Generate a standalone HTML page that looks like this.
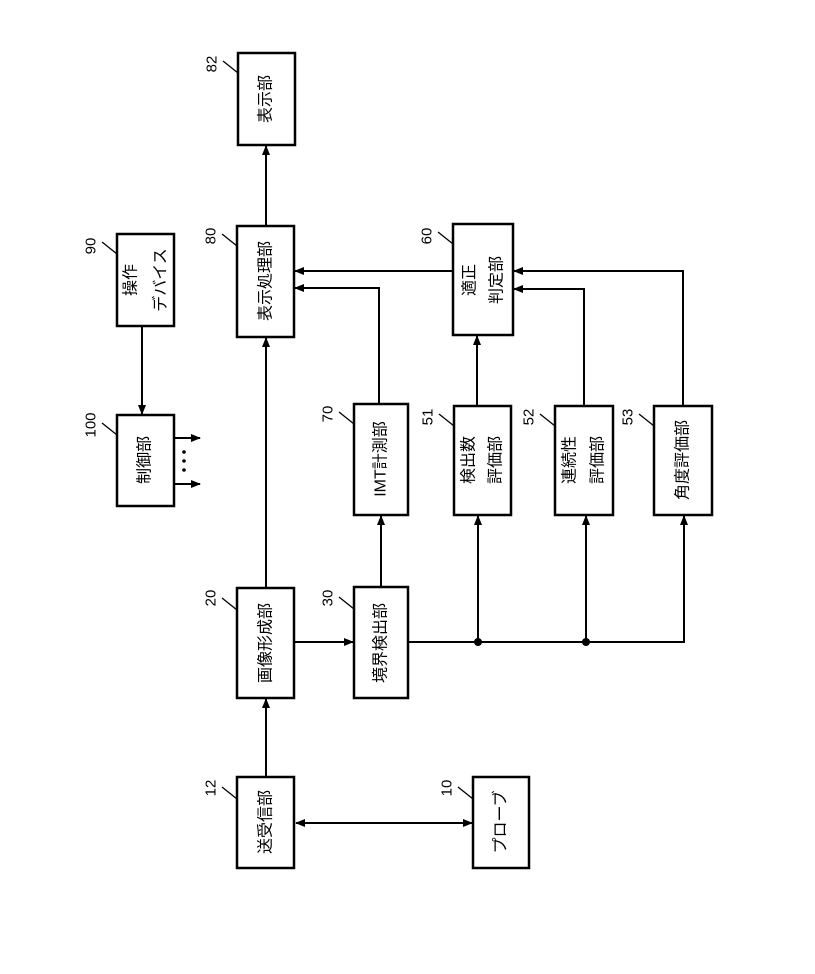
<!DOCTYPE html>
<html><head><meta charset="utf-8"><style>html,body{margin:0;padding:0;background:#fff}</style></head>
<body>
<svg width="815" height="969" viewBox="0 0 815 969" xmlns="http://www.w3.org/2000/svg" font-family="'Liberation Sans','Noto Sans CJK JP',sans-serif">
<defs>
<marker id="a" markerWidth="10" markerHeight="8" refX="9" refY="4" orient="auto" markerUnits="userSpaceOnUse"><path d="M0,0 L10,4 L0,8 z" fill="#000"/></marker>
<marker id="s" markerWidth="10" markerHeight="8" refX="1" refY="4" orient="auto" markerUnits="userSpaceOnUse"><path d="M10,0 L0,4 L10,8 z" fill="#000"/></marker>
</defs>
<g fill="#fff" stroke="#000" stroke-width="2.5">
<rect x="238" y="53" width="57" height="92"/>
<rect x="237" y="226" width="57" height="111"/>
<rect x="117" y="234" width="57" height="92"/>
<rect x="117" y="415" width="57" height="91"/>
<rect x="354" y="404" width="54" height="111"/>
<rect x="453" y="224" width="60" height="111"/>
<rect x="454" y="406" width="57" height="109"/>
<rect x="555" y="406" width="58" height="109"/>
<rect x="654" y="406" width="58" height="109"/>
<rect x="237" y="588" width="57" height="110"/>
<rect x="354" y="587" width="54" height="111"/>
<rect x="237" y="777" width="57" height="91"/>
<rect x="473" y="777" width="56" height="91"/>
</g>
<g stroke="#000" stroke-width="2" fill="none">
<line x1="266" y1="226" x2="266" y2="146" marker-end="url(#a)"/>
<line x1="142" y1="326" x2="142" y2="414" marker-end="url(#a)"/>
<line x1="174" y1="438" x2="200" y2="438" marker-end="url(#a)"/>
<line x1="174" y1="484" x2="200" y2="484" marker-end="url(#a)"/>
<line x1="266" y1="588" x2="266" y2="338" marker-end="url(#a)"/>
<line x1="453" y1="271" x2="295" y2="271" marker-end="url(#a)"/>
<polyline points="379,404 379,288 295,288" marker-end="url(#a)"/>
<line x1="381" y1="587" x2="381" y2="516" marker-end="url(#a)"/>
<line x1="477" y1="406" x2="477" y2="336" marker-end="url(#a)"/>
<polyline points="584,406 584,289 514,289" marker-end="url(#a)"/>
<polyline points="683,406 683,271 514,271" marker-end="url(#a)"/>
<polyline points="408,642 684,642 684,516" marker-end="url(#a)"/>
<line x1="478" y1="642" x2="478" y2="516" marker-end="url(#a)"/>
<line x1="586" y1="642" x2="586" y2="516" marker-end="url(#a)"/>
<line x1="294" y1="642" x2="353" y2="642" marker-end="url(#a)"/>
<line x1="266" y1="777" x2="266" y2="699" marker-end="url(#a)"/>
<line x1="296" y1="823" x2="472" y2="823" marker-start="url(#s)" marker-end="url(#a)"/>
</g>
<circle cx="478" cy="642" r="4"/><circle cx="586" cy="642" r="4"/>
<circle cx="184" cy="452" r="1.8"/><circle cx="184" cy="461" r="1.8"/><circle cx="184" cy="470" r="1.8"/>
<g stroke="#000" stroke-width="1.3">
<line x1="223" y1="61" x2="238" y2="73"/>
<line x1="222" y1="234" x2="237" y2="246"/>
<line x1="102" y1="242" x2="117" y2="254"/>
<line x1="102" y1="423" x2="117" y2="435"/>
<line x1="339" y1="412" x2="354" y2="424"/>
<line x1="438" y1="232" x2="453" y2="244"/>
<line x1="439" y1="414" x2="454" y2="426"/>
<line x1="540" y1="414" x2="555" y2="426"/>
<line x1="639" y1="414" x2="654" y2="426"/>
<line x1="222" y1="598" x2="237" y2="610"/>
<line x1="339" y1="597" x2="354" y2="609"/>
<line x1="222" y1="787" x2="237" y2="799"/>
<line x1="458" y1="787" x2="473" y2="799"/>
</g>
<g font-size="15" text-anchor="middle" dominant-baseline="central">
<text transform="translate(212,64) rotate(-90)">82</text>
<text transform="translate(211,236) rotate(-90)">80</text>
<text transform="translate(91,246) rotate(-90)">90</text>
<text transform="translate(91,425) rotate(-90)">100</text>
<text transform="translate(328,414) rotate(-90)">70</text>
<text transform="translate(427,236) rotate(-90)">60</text>
<text transform="translate(428,417) rotate(-90)">51</text>
<text transform="translate(529,417) rotate(-90)">52</text>
<text transform="translate(628,417) rotate(-90)">53</text>
<text transform="translate(211,598) rotate(-90)">20</text>
<text transform="translate(328,598) rotate(-90)">30</text>
<text transform="translate(211,788) rotate(-90)">12</text>
<text transform="translate(447,788) rotate(-90)">10</text>
</g>
<g font-size="16" text-anchor="middle" dominant-baseline="central">
<text transform="translate(266,99) rotate(-90)">表示部</text>
<text transform="translate(266,281) rotate(-90)">表示処理部</text>
<text transform="translate(131,280) rotate(-90)">操作</text>
<text transform="translate(161,280) rotate(-90)">デバイス</text>
<text transform="translate(145,460) rotate(-90)">制御部</text>
<text transform="translate(381,459) rotate(-90)">IMT計測部</text>
<text transform="translate(470,280) rotate(-90)">適正</text>
<text transform="translate(497,280) rotate(-90)">判定部</text>
<text transform="translate(469,460) rotate(-90)">検出数</text>
<text transform="translate(496,460) rotate(-90)">評価部</text>
<text transform="translate(570,460) rotate(-90)">連続性</text>
<text transform="translate(598,460) rotate(-90)">評価部</text>
<text transform="translate(683,460) rotate(-90)">角度評価部</text>
<text transform="translate(266,643) rotate(-90)">画像形成部</text>
<text transform="translate(381,643) rotate(-90)">境界検出部</text>
<text transform="translate(266,822) rotate(-90)">送受信部</text>
<text transform="translate(501,822) rotate(-90)">プローブ</text>
</g>
</svg>
</body></html>
